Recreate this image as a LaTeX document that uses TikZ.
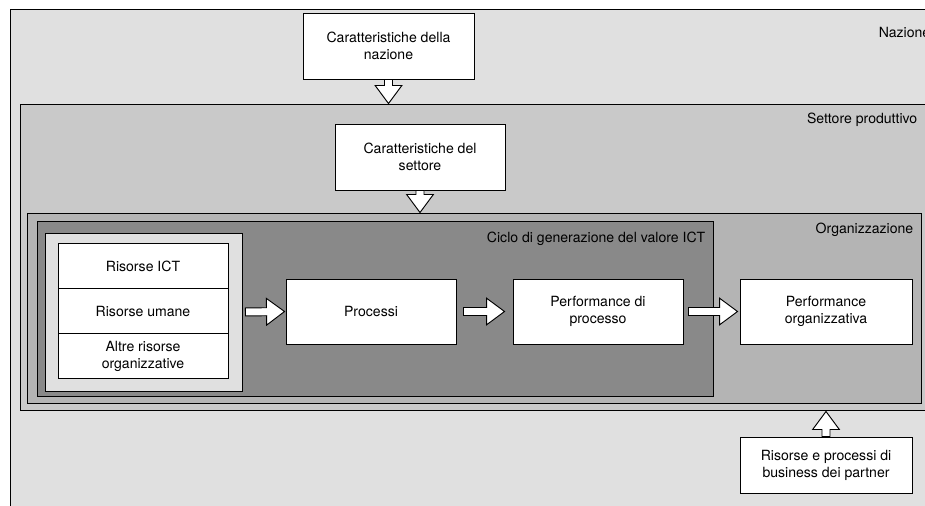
\documentclass[tikz,border=0pt]{standalone}
\usepackage{fontspec}
\setmainfont{TeX Gyre Heros}
\usepackage{tikz}
\usetikzlibrary{positioning,calc}
\definecolor{nazfill}{RGB}{224,224,224}
\definecolor{setfill}{RGB}{201,201,201}
\definecolor{orgfill}{RGB}{180,180,180}
\definecolor{ciclofill}{RGB}{137,137,137}

\begin{document}
\begin{tikzpicture}[
  x=0.03cm,y=-0.03cm,
  every node/.style={font=\fontsize{12}{14.5}\selectfont},
  frame/.style={draw,line width=0.8pt,inner sep=0pt},
  box/.style={draw,fill=white,line width=0.8pt,minimum width=5.1cm,minimum height=1.95cm,align=center},
  res/.style={box,minimum height=1.35cm},
  tag/.style={inner sep=0pt,anchor=north east},
  barrow/.style={draw,fill=white,line width=0.8pt,line join=miter}
]
  \useasboundingbox (0,0) rectangle (925,506);
  \clip (0,0) rectangle (925,506);

  % nested contexts
  \node[frame,fill=nazfill,minimum width=27.84cm,minimum height=16.53cm] (nazione) at (474,284.5) {};
  \node[frame,fill=setfill,minimum width=27.15cm,minimum height=9.18cm] (settore) at (472.5,257) {};
  \node[frame,fill=orgfill,minimum width=26.82cm,minimum height=5.7cm] (organizz) at (474,308) {};
  \node[frame,fill=ciclofill,minimum width=20.28cm,minimum height=5.25cm] (ciclo) at (375,308.5) {};
  \node[frame,fill=nazfill,minimum width=5.91cm,minimum height=4.74cm] (risorse) at (143.5,312) {};

  \node[tag] (tnaz) at ($(nazione.north east)+(-8,18)$) {Nazione};
  \node[tag] (tset) at ($(settore.north east)+(-8,9)$) {Settore produttivo};
  \node[tag] (torg) at ($(organizz.north east)+(-8,10)$) {Organizzazione};
  \node[tag] (tciclo) at ($(ciclo.north east)+(-8,11)$) {Ciclo di generazione del valore ICT};

  % boxes
  \node[box,minimum width=5.13cm,minimum height=1.98cm] (carnaz) at (388.5,46) {Caratteristiche della\\nazione};
  \node[box,minimum height=1.98cm] (carset) at (420,157) {Caratteristiche del\\settore};
  \node[res] (ict)   at (143,266) {Risorse ICT};
  \node[res] (umane) at (143,311) {Risorse umane};
  \node[res] (altre) at (143,356) {Altre risorse\\organizzative};
  \node[box] (processi) at (371,311.5) {Processi};
  \node[box] (perfproc) at (598,311.5) {Performance di\\processo};
  \node[box,minimum width=5.16cm] (perforg) at (826,311.5) {Performance\\organizzativa};
  \node[box,minimum width=5.16cm,minimum height=1.68cm] (partner) at (826,465) {Risorse e processi di\\business dei partner};

  \coordinate (naztip) at (carnaz.south |- settore.north);
  \coordinate (settip) at (carset.south |- organizz.north);
  \coordinate (parttip) at (partner.north |- settore.south);

  % block arrows
  \foreach \s/\t/\ga/\gb in {carnaz.south/naztip/0cm/0cm, carset.south/settip/0cm/0cm,
      risorse.east/processi.west/0.09cm/0.03cm, processi.east/perfproc.west/0.21cm/0.24cm,
      perfproc.east/perforg.west/0.15cm/0.06cm, partner.north/parttip/0cm/0.03cm}{
    \coordinate (tl) at ($(\s)!\ga!(\t)$);
    \coordinate (tp) at ($(\t)!\gb!(\s)$);
    \coordinate (hb) at ($(tp)!0.54cm!(tl)$);
    \draw[barrow] ($(tl)!0.12cm!90:(tp)$) -- ($(hb)!0.12cm!-90:(tl)$) -- ($(hb)!0.4cm!-90:(tl)$)
      -- (tp) -- ($(hb)!0.4cm!90:(tl)$) -- ($(hb)!0.12cm!90:(tl)$) -- ($(tl)!0.12cm!-90:(tp)$) -- cycle;
  }
\end{tikzpicture}
\end{document}
